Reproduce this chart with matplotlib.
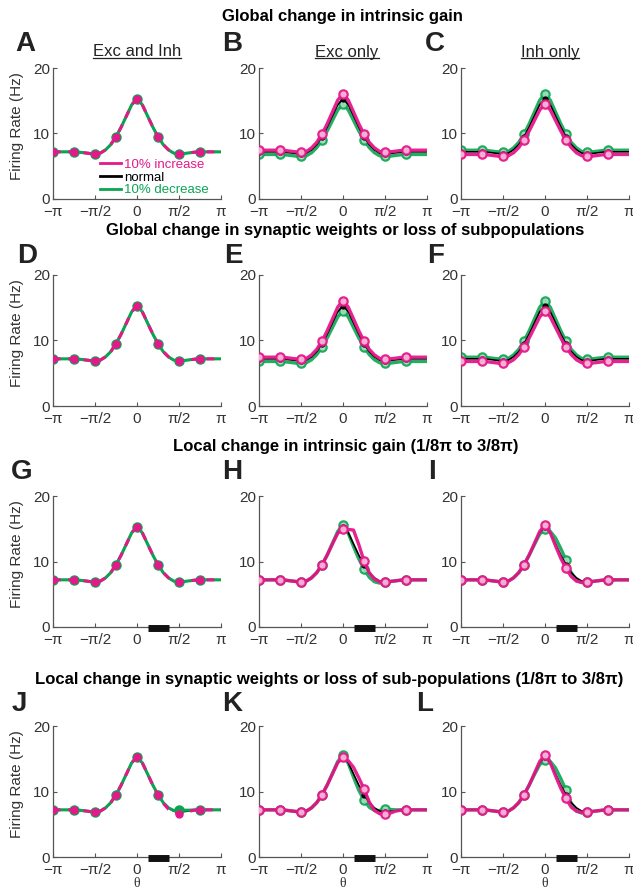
import numpy as np
import matplotlib.pyplot as plt
from matplotlib.lines import Line2D

plt.rcParams['font.family'] = ['Liberation Sans', 'DejaVu Sans']

PINK = '#E5188A'
GREEN = '#0BA552'
PINK_FACE = '#F6B8DA'
GREEN_FACE = '#A8DDBE'

# orientation grid, pi/16 steps from -pi to pi
theta = np.arange(-16, 17) * np.pi / 16
xticks = [-np.pi, -np.pi / 2, 0, np.pi / 2, np.pi]
xticklabels = ['\u2212\u03c0', '\u2212\u03c0/2', '0', '\u03c0/2', '\u03c0']
yticks = [0, 10, 20]
bar_range = [np.pi / 8, 3 * np.pi / 8]   # locally changed region

# firing rates (Hz)
normal = [7.2, 7.2, 7.2, 7.2, 7.2, 7.15, 7.05, 6.95, 6.9, 7.0, 7.5, 8.3, 9.5, 11.0, 12.7, 14.4, 15.3,
          14.4, 12.7, 11.0, 9.5, 8.3, 7.5, 7.0, 6.9, 6.95, 7.05, 7.15, 7.2, 7.2, 7.2, 7.2, 7.2]
glob_high = [7.45, 7.45, 7.45, 7.45, 7.45, 7.4, 7.3, 7.2, 7.15, 7.25, 7.8, 8.65, 9.9, 11.5, 13.3, 15.1, 16.1,
             15.1, 13.3, 11.5, 9.9, 8.65, 7.8, 7.25, 7.15, 7.2, 7.3, 7.4, 7.45, 7.45, 7.45, 7.45, 7.45]
glob_low = [6.8, 6.8, 6.8, 6.8, 6.8, 6.75, 6.65, 6.55, 6.5, 6.6, 7.05, 7.85, 9.0, 10.4, 12.0, 13.6, 14.5,
            13.6, 12.0, 10.4, 9.0, 7.85, 7.05, 6.6, 6.5, 6.55, 6.65, 6.75, 6.8, 6.8, 6.8, 6.8, 6.8]

# local change, intrinsic gain
H_pink = [7.2, 7.2, 7.2, 7.2, 7.2, 7.15, 7.05, 6.95, 6.9, 7.0, 7.5, 8.3, 9.5, 11.0, 12.7, 14.3, 15.0,
          14.9, 14.8, 12.6, 10.1, 8.3, 7.3, 6.9, 6.85, 6.95, 7.05, 7.15, 7.2, 7.2, 7.2, 7.2, 7.2]
H_green = [7.2, 7.2, 7.2, 7.2, 7.2, 7.15, 7.05, 6.95, 6.9, 7.0, 7.5, 8.3, 9.5, 11.0, 12.8, 14.6, 15.6,
           14.3, 12.3, 10.4, 8.9, 7.6, 6.9, 6.7, 6.8, 6.95, 7.05, 7.15, 7.2, 7.2, 7.2, 7.2, 7.2]
I_pink = [7.2, 7.2, 7.2, 7.2, 7.2, 7.15, 7.05, 6.95, 6.9, 7.0, 7.5, 8.3, 9.5, 11.0, 12.8, 14.6, 15.5,
          14.4, 12.4, 10.5, 8.95, 7.7, 7.0, 6.8, 6.85, 6.95, 7.05, 7.15, 7.2, 7.2, 7.2, 7.2, 7.2]
I_green = [7.2, 7.2, 7.2, 7.2, 7.2, 7.15, 7.05, 6.95, 6.9, 7.0, 7.5, 8.3, 9.5, 11.0, 12.6, 14.2, 14.9,
           14.6, 13.6, 12.0, 10.2, 8.3, 7.1, 6.8, 6.85, 6.95, 7.05, 7.15, 7.2, 7.2, 7.2, 7.2, 7.2]

# local change, synaptic weights
J_pink = [7.2, 7.2, 7.2, 7.2, 7.2, 7.15, 7.05, 6.95, 6.9, 7.0, 7.5, 8.3, 9.5, 11.0, 12.7, 14.4, 15.3,
          14.4, 12.7, 11.0, 9.5, 8.2, 7.3, 6.8, 6.6, 6.8, 7.0, 7.15, 7.2, 7.2, 7.2, 7.2, 7.2]
J_green = [7.2, 7.2, 7.2, 7.2, 7.2, 7.15, 7.05, 6.95, 6.9, 7.0, 7.5, 8.3, 9.5, 11.0, 12.7, 14.4, 15.2,
           14.4, 12.7, 11.0, 9.5, 8.3, 7.5, 7.1, 7.2, 7.15, 7.15, 7.2, 7.2, 7.2, 7.2, 7.2, 7.2]
K_pink = [7.2, 7.2, 7.2, 7.2, 7.2, 7.15, 7.05, 6.95, 6.9, 7.0, 7.5, 8.3, 9.5, 11.0, 12.7, 14.4, 15.2,
          14.7, 13.7, 12.1, 10.4, 8.4, 7.1, 6.6, 6.5, 6.7, 7.0, 7.15, 7.2, 7.2, 7.2, 7.2, 7.2]
K_green = [7.2, 7.2, 7.2, 7.2, 7.2, 7.15, 7.05, 6.95, 6.9, 7.0, 7.5, 8.3, 9.5, 11.0, 12.8, 14.6, 15.5,
           14.3, 12.2, 10.2, 8.7, 7.6, 7.1, 7.1, 7.3, 7.25, 7.2, 7.2, 7.2, 7.2, 7.2, 7.2, 7.2]
L_pink = [7.2, 7.2, 7.2, 7.2, 7.2, 7.15, 7.05, 6.95, 6.9, 7.0, 7.5, 8.3, 9.5, 11.0, 12.8, 14.6, 15.55,
          14.4, 12.4, 10.5, 8.95, 7.6, 7.0, 6.8, 6.85, 6.95, 7.05, 7.15, 7.2, 7.2, 7.2, 7.2, 7.2]
L_green = [7.2, 7.2, 7.2, 7.2, 7.2, 7.15, 7.05, 6.95, 6.9, 7.0, 7.5, 8.3, 9.5, 11.0, 12.6, 14.1, 14.8,
           14.6, 13.6, 12.0, 10.2, 8.2, 7.0, 6.7, 6.8, 6.95, 7.05, 7.15, 7.2, 7.2, 7.2, 7.2, 7.2]

letters = ['A', 'B', 'C', 'D', 'E', 'F', 'G', 'H', 'I', 'J', 'K', 'L']
col_titles = ['Exc and Inh', 'Exc only', 'Inh only']
row_titles = ['Global change in intrinsic gain',
              'Global change in synaptic weights or loss of subpopulations',
              'Local change in intrinsic gain (1/8\u03c0 to 3/8\u03c0)',
              'Local change in synaptic weights or loss of sub-populations (1/8\u03c0 to 3/8\u03c0)']

# (increase, decrease, overlapping-style) per panel
panels = [
    (normal, normal, True), (glob_high, glob_low, False), (glob_low, glob_high, False),
    (normal, normal, True), (glob_high, glob_low, False), (glob_low, glob_high, False),
    (normal, normal, True), (H_pink, H_green, False), (I_pink, I_green, False),
    (J_pink, J_green, True), (K_pink, K_green, False), (L_pink, L_green, False),
]

W, H = 633, 888
fig = plt.figure(figsize=(W / 100, H / 100), dpi=100)

col_left = [53, 259, 461]
row_bottom = [199, 406, 627, 857]
ax_w, ax_h = 168, 131
marks = list(range(0, 29, 4))

for k, (inc, dec, overlap) in enumerate(panels):
    r, c = divmod(k, 3)
    ax = fig.add_axes([col_left[c] / W, 1 - row_bottom[r] / H, ax_w / W, ax_h / H])

    if overlap:
        ax.plot(theta, normal, color='k', lw=1.3, zorder=2)
        ax.plot(theta, dec, color=GREEN, lw=2.2, marker='o', ms=6.5, mfc=GREEN, mec=GREEN,
                markevery=marks, zorder=3)
        ax.plot(theta, inc, color=PINK, lw=2.2, ls=(0, (2.5, 2.5)), marker='o', ms=5, mfc=PINK,
                mec=PINK, markevery=marks, zorder=4)
    else:
        ax.plot(theta, dec, color=GREEN, lw=2.4, alpha=0.9, marker='o', ms=6, mfc=GREEN_FACE,
                mec=GREEN, mew=1.6, markevery=marks, zorder=2)
        ax.plot(theta, normal, color='k', lw=1.2, marker='o', ms=3.5, markevery=marks, zorder=3)
        ax.plot(theta, inc, color=PINK, lw=2.4, alpha=0.95, marker='o', ms=6, mfc=PINK_FACE,
                mec=PINK, mew=1.6, markevery=marks, zorder=4)

    if r >= 2:
        ax.plot(bar_range, [-0.2, -0.2], color='#111111', lw=5, solid_capstyle='butt',
                clip_on=False, zorder=5)

    ax.set_xlim(-np.pi, np.pi)
    ax.set_ylim(0, 20)
    ax.set_xticks(xticks)
    ax.set_xticklabels(xticklabels)
    ax.set_yticks(yticks)
    for s in ['top', 'right']:
        ax.spines[s].set_visible(False)
    for s in ['left', 'bottom']:
        ax.spines[s].set_color('#555555')
        ax.spines[s].set_linewidth(0.9)
    ax.tick_params(direction='in', length=3, width=0.8, color='#555555',
                   labelsize=11, labelcolor='#333333')
    ax.tick_params(axis='y', pad=2)
    ax.tick_params(axis='x', pad=4)

    if c == 0:
        ax.set_ylabel('Firing Rate (Hz)', fontsize=11, color='#333333')
        ax.yaxis.set_label_coords(-0.17, 0.56)
    if r == 3:
        ax.set_xlabel('\u03b8', fontsize=10, color='#333333', family=['Liberation Serif'],
                      labelpad=0)

    if k == 0:
        handles = [Line2D([], [], color=PINK, lw=2), Line2D([], [], color='k', lw=2),
                   Line2D([], [], color=GREEN, lw=2)]
        ax.legend(handles, ['10% increase', 'normal', '10% decrease'], loc='upper left',
                  bbox_to_anchor=(0.28, 0.31), frameon=False, fontsize=9.5,
                  labelcolor=[PINK, 'k', GREEN], handlelength=1.6, handletextpad=0.25,
                  labelspacing=0.05, borderpad=0, borderaxespad=0)


def px(x, y):
    return x / W, 1 - y / H


letter_pos = [(15, 44), (222, 44), (425, 44),
              (17, 256), (224, 256), (427, 256),
              (11, 472), (222, 472), (428, 472),
              (12, 704), (222, 704), (416, 704)]
for lab, (x, y) in zip(letters, letter_pos):
    fig.text(*px(x, y), lab, fontsize=20, fontweight='bold', ha='left', va='center', color='#222222')

row_title_pos = [(342, 17), (345, 231), (346, 446), (329, 679)]
for t, (x, y) in zip(row_titles, row_title_pos):
    fig.text(*px(x, y), t, fontsize=12, fontweight='bold', ha='center', va='center')

col_title_x = [137, 347, 550]
col_texts = []
for t, x in zip(col_titles, col_title_x):
    col_texts.append(fig.text(*px(x, 52), t, fontsize=12, ha='center', va='center', color='#222222'))

# underline the column titles
fig.canvas.draw()
for t in col_texts:
    bb = t.get_window_extent()
    y0 = (bb.y0 + 1) / H
    fig.add_artist(Line2D([bb.x0 / W, bb.x1 / W], [y0, y0], color='#222222', lw=0.9,
                          transform=fig.transFigure))

fig.savefig('out.png', dpi=100)
